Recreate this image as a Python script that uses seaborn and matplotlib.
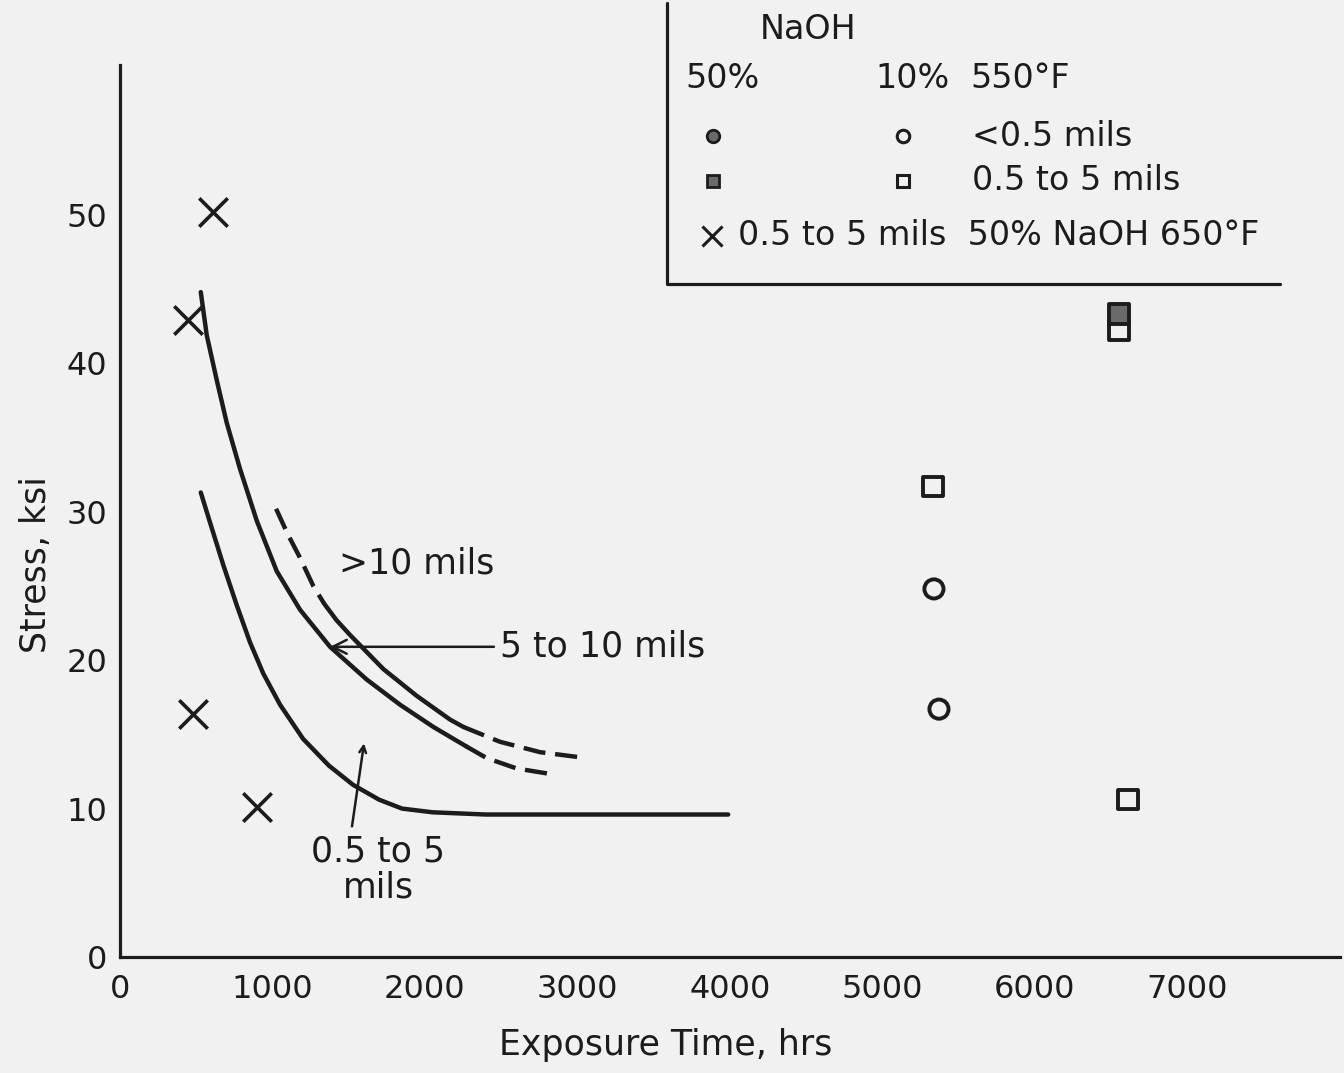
import matplotlib
matplotlib.use("Agg")
import matplotlib.pyplot as plt
import seaborn as sns

# ---------------- data ----------------
# curve "0.5 to 5 mils" (solid)
low_x = [530, 590, 678, 766, 853, 940, 1050, 1201, 1370, 1529, 1700, 1850, 2050, 2400, 3990]
low_y = [31.3, 29.3, 26.4, 23.7, 21.2, 19.1, 17.0, 14.7, 12.9, 11.6, 10.6, 10.0, 9.75, 9.6, 9.6]

# curve "5 to 10 mils" (solid, then dashed)
mid_solid_x = [530, 569, 634, 700, 787, 897, 1028, 1181, 1378, 1618, 1837, 2056, 2270]
mid_solid_y = [44.8, 41.9, 38.9, 36.0, 32.9, 29.4, 26.0, 23.4, 20.9, 18.7, 17.0, 15.5, 14.2]
mid_dash_x = [2270, 2406, 2603, 2843]
mid_dash_y = [14.2, 13.4, 12.7, 12.3]

# curve ">10 mils" (dashed, solid, dashed)
up_dash1_x = [1024, 1100, 1181, 1268, 1340]
up_dash1_y = [30.2, 28.5, 26.9, 25.0, 23.8]
up_solid_x = [1340, 1420, 1509, 1728, 1946, 2165, 2253]
up_solid_y = [23.8, 22.7, 21.7, 19.4, 17.6, 16.0, 15.5]
up_dash2_x = [2253, 2493, 2756, 3062]
up_dash2_y = [15.5, 14.5, 13.8, 13.4]

# 50% NaOH 650°F, 0.5 to 5 mils (x markers)
cross_x = [610, 446, 479, 899]
cross_y = [50.2, 42.9, 16.4, 10.1]

# 10% NaOH 550°F, <0.5 mils (open circles)
circ10_x = [5340, 5373]
circ10_y = [24.8, 16.7]

# 10% NaOH 550°F, 0.5 to 5 mils (open squares)
sq10_x = [5334, 6613, 6555]
sq10_y = [31.7, 10.6, 42.2]

# 50% NaOH 550°F, 0.5 to 5 mils (shaded squares)
sq50_x = [6555]
sq50_y = [43.3]

x_ticks = [0, 1000, 2000, 3000, 4000, 5000, 6000, 7000]
y_ticks = [0, 10, 20, 30, 40, 50]

# ---------------- style ----------------
sns.set_theme(style="white")
plt.rcParams['font.family'] = ['DejaVu Sans']
INK = '#1c1c1c'
BG = '#f1f1f1'

fig = plt.figure(figsize=(13.44, 10.73), dpi=100, facecolor=BG)
ax = fig.add_axes([120/1344, (1073-957)/1073, (1340-120)/1344, (957-65)/1073])
ax.set_facecolor(BG)
ax.set_xlim(0, 8004)
ax.set_ylim(0, 60.1)

for s in ['top', 'right']:
    ax.spines[s].set_visible(False)
for s in ['left', 'bottom']:
    ax.spines[s].set_color(INK)
    ax.spines[s].set_linewidth(2.3)

ax.set_xticks(x_ticks)
ax.set_yticks(y_ticks)
ax.tick_params(axis='x', direction='in', length=18, width=1.8, color=INK,
               labelsize=23, pad=12, labelcolor=INK)
ax.tick_params(axis='y', direction='in', length=22, width=1.8, color=INK,
               labelsize=23, pad=9, labelcolor=INK)
ax.set_xticklabels([str(t) for t in x_ticks])
ax.set_yticklabels([str(t) for t in y_ticks])

ax.set_xlabel("Exposure Time, hrs", fontsize=25, color=INK)
ax.xaxis.set_label_coords(0.447, -0.080)
ax.xaxis.label.set_va('top')
ax.set_ylabel("Stress, ksi", fontsize=25, color=INK)
ax.yaxis.set_label_coords(-0.055, 0.44)

dash = (0, (5, 2.2))
lw = 3.2
common = dict(sort=False, estimator=None, ax=ax, color=INK, lw=lw, solid_capstyle='round')

sns.lineplot(x=low_x, y=low_y, **common)
sns.lineplot(x=mid_solid_x, y=mid_solid_y, **common)
sns.lineplot(x=mid_dash_x, y=mid_dash_y, linestyle=dash, **common)
sns.lineplot(x=up_dash1_x, y=up_dash1_y, linestyle=dash, **common)
sns.lineplot(x=up_solid_x, y=up_solid_y, **common)
sns.lineplot(x=up_dash2_x, y=up_dash2_y, linestyle=dash, **common)

sns.scatterplot(x=cross_x, y=cross_y, marker='x', s=420, color=INK, linewidth=2.6, ax=ax, zorder=5)
sns.scatterplot(x=circ10_x, y=circ10_y, marker='o', s=190, facecolor='none', edgecolor=INK,
                linewidth=2.8, ax=ax, zorder=5)
sns.scatterplot(x=sq10_x, y=sq10_y, marker='s', s=200, facecolor='none', edgecolor=INK,
                linewidth=2.8, ax=ax, zorder=5)
sns.scatterplot(x=sq50_x, y=sq50_y, marker='s', s=200, facecolor='#6a6a6a', edgecolor=INK,
                linewidth=2.8, ax=ax, zorder=5)

# curve annotations
ax.text(1440, 26.5, ">10 mils", fontsize=25, color=INK, va='center', ha='left')
ax.annotate("5 to 10 mils", xy=(1378, 20.9), xytext=(2493, 20.9), fontsize=25, color=INK,
            va='center', ha='left',
            arrowprops=dict(arrowstyle='->', color=INK, lw=1.8, shrinkA=2, shrinkB=0))
ax.annotate("", xy=(1601, 14.4), xytext=(1522, 8.8),
            arrowprops=dict(arrowstyle='->', color=INK, lw=1.8, shrinkA=0, shrinkB=0))
ax.text(1693, 5.9, "0.5 to 5\nmils", fontsize=25, color=INK, va='center', ha='center',
        linespacing=1.1)

# legend box (open frame: left and bottom lines)
ax.plot([3589, 3589, 7610], [64.3, 45.35, 45.35], color=INK, lw=2.3, clip_on=False)
ax.text(4198, 62.5, "NaOH", fontsize=24, color=INK, va='center', ha='left')
ax.text(3707, 59.2, "50%", fontsize=24, color=INK, va='center', ha='left')
ax.text(4953, 59.2, "10%", fontsize=24, color=INK, va='center', ha='left')
ax.text(5576, 59.2, "550°F", fontsize=24, color=INK, va='center', ha='left')
ax.plot([3890], [55.3], marker='o', ms=9, mfc='#6a6a6a', mec=INK, mew=2, clip_on=False)
ax.plot([5137], [55.3], marker='o', ms=9, mfc='none', mec=INK, mew=2.2, clip_on=False)
ax.text(5589, 55.3, "<0.5 mils", fontsize=24, color=INK, va='center', ha='left')
ax.plot([3890], [52.3], marker='s', ms=9, mfc='#6a6a6a', mec=INK, mew=2, clip_on=False)
ax.plot([5137], [52.3], marker='s', ms=9, mfc='none', mec=INK, mew=2.2, clip_on=False)
ax.text(5589, 52.3, "0.5 to 5 mils", fontsize=24, color=INK, va='center', ha='left')
ax.plot([3884], [48.6], marker='x', ms=15, mec=INK, mew=2.2, clip_on=False)
ax.text(4054, 48.6, "0.5 to 5 mils  50% NaOH 650°F", fontsize=24, color=INK,
        va='center', ha='left')

fig.savefig("out.png", dpi=100, facecolor=BG)
